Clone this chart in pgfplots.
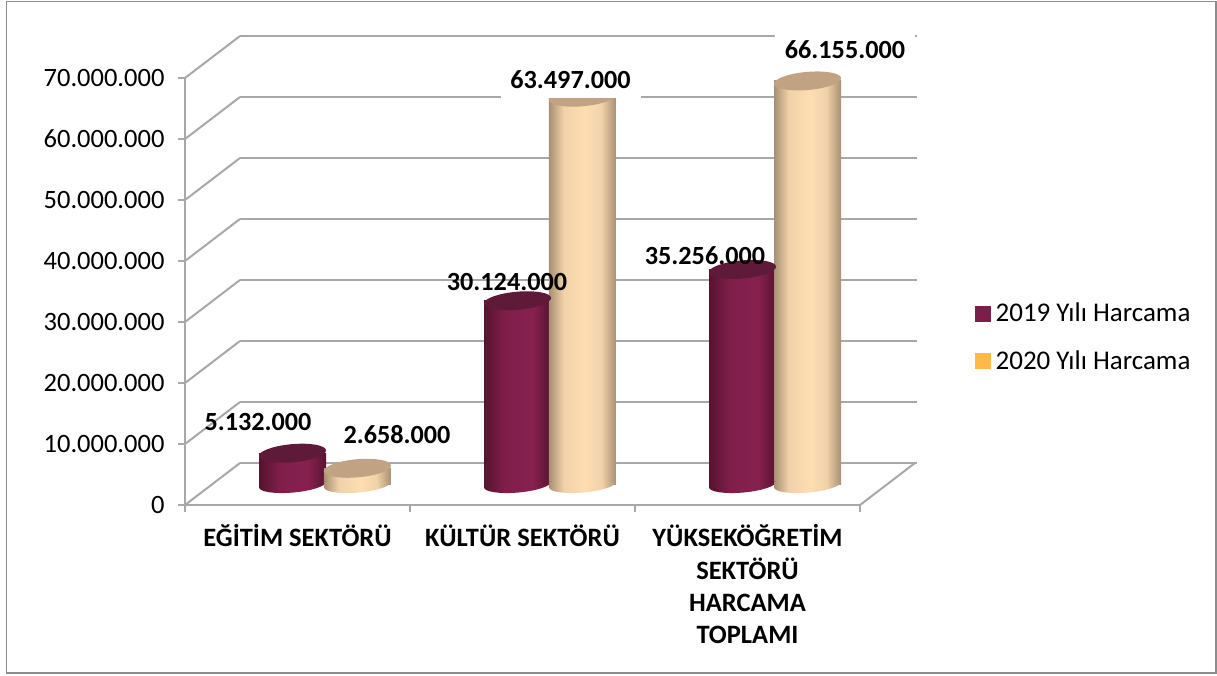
\documentclass[border=0pt]{standalone}
\usepackage{pgfplots}
\usepackage{fontspec}
\setmainfont{Carlito}
\pgfplotsset{compat=1.18}
\definecolor{gridg}{HTML}{A8A8A8}
\definecolor{frameg}{HTML}{8C8C8C}
\definecolor{mA}{HTML}{56132F}
\definecolor{mB}{HTML}{86204E}
\definecolor{mTop}{HTML}{601A39}
\definecolor{pA}{HTML}{A89073}
\definecolor{pB}{HTML}{FEDDB2}
\definecolor{pTop}{HTML}{C1A283}
\definecolor{legM}{HTML}{7A1F4A}
\definecolor{legP}{HTML}{FFB947}
\pgfdeclarehorizontalshading{cylM}{100bp}{color(0bp)=(mA);color(25bp)=(mA);color(40bp)=(mB!85!mA);color(55bp)=(mB);color(62bp)=(mB);color(75bp)=(mA);color(100bp)=(mA)}
\pgfdeclarehorizontalshading{cylP}{100bp}{color(0bp)=(pA);color(25bp)=(pA);color(36bp)=(pB!85!pA);color(52bp)=(pB);color(64bp)=(pB!85!pA);color(75bp)=(pA);color(100bp)=(pA)}
\pgfdeclareplotmark{topM}{\pgfpathellipse{\pgfpointorigin}{\pgfqpoint{33.5pt}{3pt}}{\pgfqpoint{-1pt}{9pt}}\pgfsetfillcolor{mTop}\pgfusepathqfill}
\pgfdeclareplotmark{topP}{\pgfpathellipse{\pgfpointorigin}{\pgfqpoint{33.5pt}{3pt}}{\pgfqpoint{-1pt}{9pt}}\pgfsetfillcolor{pTop}\pgfusepathqfill}
\def\lowerhalf{%
  \pgfpathmoveto{\pgfqpoint{33.5pt}{3pt}}%
  \pgfpathcurveto{\pgfqpoint{34.05pt}{-1.42pt}}{\pgfqpoint{19.5pt}{-6.34pt}}{\pgfqpoint{1pt}{-8pt}}%
  \pgfpathcurveto{\pgfqpoint{-17.5pt}{-9.66pt}}{\pgfqpoint{-32.95pt}{-7.42pt}}{\pgfqpoint{-33.5pt}{-3pt}}%
  \pgfpathlineto{\pgfqpoint{-33.5pt}{3pt}}%
  \pgfpathclose}
\pgfdeclareplotmark{botM}{\lowerhalf\pgfshadepath{cylM}{0}\pgfusepath{discard}}
\pgfdeclareplotmark{botP}{\lowerhalf\pgfshadepath{cylP}{0}\pgfusepath{discard}}
\pgfplotsset{common/.style={scale only axis,width=675pt,height=427pt,xmin=0,xmax=3,ymin=0,ymax=70000000,clip=false,scaled y ticks=false},
  barM/.style={ybar,bar width=67pt,bar shift=0pt,draw=none,shade,shading=cylM,forget plot},
  barP/.style={ybar,bar width=67pt,bar shift=0pt,draw=none,shade,shading=cylP,forget plot}}
\begin{document}
\begin{tikzpicture}[x=1pt,y=1pt]
\useasboundingbox (0,0) rectangle (1217,675);
\draw[frameg,line width=1.4pt] (6.7,2) rectangle (1216,673.3);
% back wall
\begin{axis}[common,at={(240pt,212pt)},anchor=south west,width=677pt,
  axis line style={draw=none},tick style={draw=none},xtick=\empty,
  ytick={0,10000000,20000000,30000000,40000000,50000000,60000000,70000000},yticklabels={},
  ymajorgrids,grid style={gridg,line width=2pt}]
\end{axis}
% front axes, floor and side wall
\begin{axis}[common,at={(185pt,170pt)},anchor=south west,
  axis x line*=bottom,axis y line*=left,axis line style={gridg,line width=2pt,-},
  tick align=outside,tick style={gridg,line width=1.6pt},major tick length=7pt,
  xtick={0,1,2,3},xticklabels={},
  extra x ticks={0.5,1.5,2.5},
  extra x tick labels={{EĞİTİM SEKTÖRÜ},{KÜLTÜR SEKTÖRÜ},{YÜKSEKÖĞRETİM\\SEKTÖRÜ\\HARCAMA\\TOPLAMI}},
  extra x tick style={major tick length=0pt,tick label style={font=\fontsize{26.5}{32.4}\selectfont\bfseries,align=center,anchor=north,yshift=-16pt}},
  ytick={0,10000000,20000000,30000000,40000000,50000000,60000000,70000000},
  yticklabels={0,10.000.000,20.000.000,30.000.000,40.000.000,50.000.000,60.000.000,70.000.000},
  y tick label style={font=\fontsize{26.5}{30}\selectfont,xshift=-10pt}]
\addplot[gridg,line width=2pt,unbounded coords=jump,forget plot] coordinates {
 (0,0) (0.2444,6885000) (0,nan)
 (0,10000000) (0.2444,16885000) (0,nan)
 (0,20000000) (0.2444,26885000) (0,nan)
 (0,30000000) (0.2444,36885000) (0,nan)
 (0,40000000) (0.2444,46885000) (0,nan)
 (0,50000000) (0.2444,56885000) (0,nan)
 (0,60000000) (0.2444,66885000) (0,nan)
 (0,70000000) (0.2444,76885000) (0,nan)
 (3,0) (3.2444,6885000)
};
\end{axis}
% cylinders
\begin{axis}[common,at={(212.5pt,190.5pt)},anchor=south west,hide axis,
  legend style={anchor=north west,at={(axis cs:3.389,30080000)},draw=none,fill=none,
    font=\fontsize{27}{30}\selectfont,row sep=23pt,inner sep=0pt},
  legend cell align=left]
\addlegendimage{legend image code/.code={\fill[legM] (0pt,-7.5pt) rectangle (15pt,7.5pt);\path (18pt,0pt);}}
\addlegendentry{2019 Yılı Harcama}
\addlegendimage{legend image code/.code={\fill[legP] (0pt,-7.5pt) rectangle (15pt,7.5pt);\path (18pt,0pt);}}
\addlegendentry{2020 Yılı Harcama}
% 2019 series
\addplot[only marks,mark=botM,forget plot] coordinates {(0.3556,0) (1.3556,0) (2.3556,0)};
\addplot[barM] coordinates {(0.3556,5132000)};
\addplot[barM] coordinates {(1.3556,30124000)};
\addplot[barM] coordinates {(2.3556,35256000)};
\addplot[only marks,mark=topM,forget plot] coordinates {(0.3556,5132000) (1.3556,30124000) (2.3556,35256000)};
% 2020 series
\addplot[only marks,mark=botP,forget plot] coordinates {(0.6444,0) (1.6444,0) (2.6444,0)};
\addplot[barP] coordinates {(0.6444,2658000)};
\addplot[barP] coordinates {(1.6444,63497000)};
\addplot[barP] coordinates {(2.6444,66155000)};
\addplot[only marks,mark=topP,forget plot] coordinates {(0.6444,2658000) (1.6444,63497000) (2.6444,66155000)};
\end{axis}
% data labels
\tikzset{dl/.style={font=\fontsize{26.2}{30}\selectfont\bfseries,inner sep=0pt},
  wb/.style={dl,fill=white,minimum width=140pt,minimum height=37pt}}
\node[dl] at (258,253) {5.132.000};
\node[dl] at (397,240) {2.658.000};
\node[dl] at (507,393) {30.124.000};
\node[dl] at (705,419) {35.256.000};
\node[wb] at (570.5,595) {63.497.000};
\node[wb] at (845,625) {66.155.000};
\end{tikzpicture}
\end{document}
